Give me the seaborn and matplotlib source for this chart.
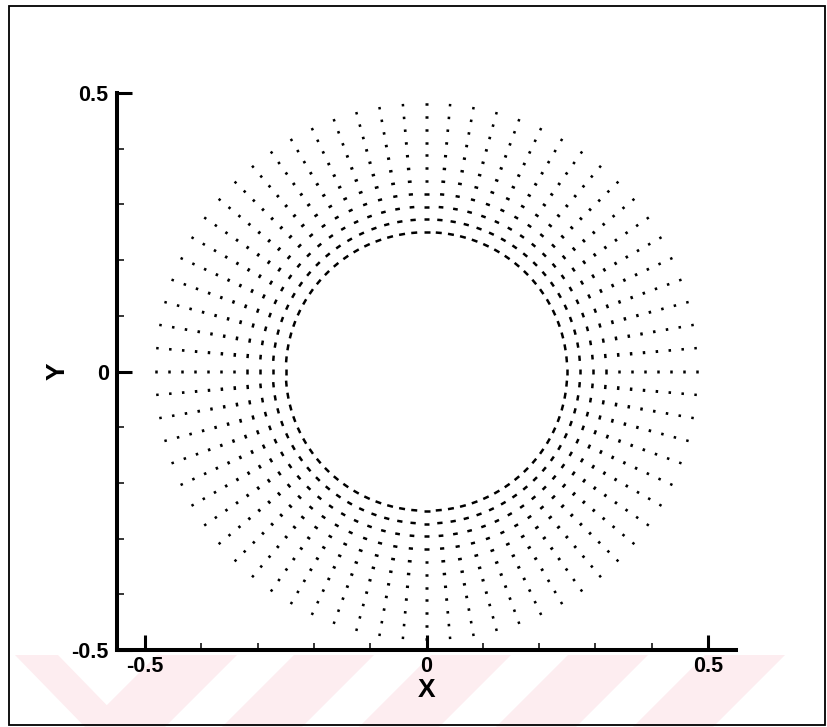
import numpy as np
import pandas as pd
import matplotlib
matplotlib.use("Agg")
import matplotlib.pyplot as plt
from matplotlib.markers import MarkerStyle
from matplotlib.transforms import Affine2D
from matplotlib.ticker import MultipleLocator, FixedLocator, FixedFormatter
from matplotlib.patches import Polygon, Rectangle
import seaborn as sns

# Radii of the rings of the annular point grid (inner boundary r = 0.25)
ring_radii = [0.250, 0.273, 0.296, 0.319, 0.342, 0.365,
              0.388, 0.411, 0.434, 0.457, 0.480]

# Angular positions of the grid spokes, degrees
spoke_angles = [0, 5, 10, 15, 20, 25, 30, 35, 40, 45, 50, 55,
                60, 65, 70, 75, 80, 85, 90, 95, 100, 105, 110, 115,
                120, 125, 130, 135, 140, 145, 150, 155, 160, 165, 170, 175,
                180, 185, 190, 195, 200, 205, 210, 215, 220, 225, 230, 235,
                240, 245, 250, 255, 260, 265, 270, 275, 280, 285, 290, 295,
                300, 305, 310, 315, 320, 325, 330, 335, 340, 345, 350, 355]

x_ticks = [-0.5, 0.0, 0.5]
x_tick_labels = ["-0.5", "0", "0.5"]
y_ticks = [-0.5, 0.0, 0.5]
y_tick_labels = ["-0.5", "0", "0.5"]

# Build the table of grid nodes
rows = []
for a in spoke_angles:
    t = np.deg2rad(a)
    for k, r in enumerate(ring_radii):
        rows.append({"angle": a, "ring": k, "x": r * np.cos(t), "y": r * np.sin(t)})
nodes = pd.DataFrame(rows)

# Tangential dash length of each node symbol (pixels), longer on the inner rings
dash_px = [6.0, 5.3, 4.7, 4.2, 3.8, 3.4, 3.1, 2.9, 2.7, 2.6, 2.5]
dash_sizes = {k: (0.72 * L) ** 2 for k, L in enumerate(dash_px)}

sns.set_style("white")
plt.rcParams["font.family"] = ["Liberation Sans", "DejaVu Sans"]
plt.rcParams["font.weight"] = "bold"
plt.rcParams["axes.unicode_minus"] = False
plt.rcParams["text.color"] = "black"
plt.rcParams["axes.labelcolor"] = "black"
plt.rcParams["xtick.color"] = "black"
plt.rcParams["ytick.color"] = "black"

W, H = 827, 727
fig = plt.figure(figsize=(W / 100, H / 100), dpi=100)
fig.patch.set_facecolor("white")

def fx(px):
    return px / W

def fy(py):
    return 1 - py / H

# Faint diagonal band pattern along the bottom edge of the page
band_col = "#fdedf0"
for x0 in [85, 222, 359, 496, 633]:
    pts = [(x0, 727), (x0 + 80, 727), (x0 + 152, 655), (x0 + 72, 655)]
    fig.add_artist(Polygon([(fx(a), fy(b)) for a, b in pts], closed=True,
                           transform=fig.transFigure, facecolor=band_col,
                           edgecolor="none", zorder=0))
pts = [(15, 655), (58, 655), (128, 727), (85, 727)]
fig.add_artist(Polygon([(fx(a), fy(b)) for a, b in pts], closed=True,
                       transform=fig.transFigure, facecolor=band_col,
                       edgecolor="none", zorder=0))

# Page frame
fig.add_artist(Rectangle((fx(9), fy(725)), fx(825) - fx(9), fy(6) - fy(725),
                         transform=fig.transFigure, fill=False,
                         edgecolor="black", linewidth=1.3, zorder=1))

ax = fig.add_axes([fx(117), fy(650), fx(736) - fx(117), fy(93) - fy(650)])
ax.set_facecolor("none")

for a, sub in nodes.groupby("angle"):
    mk = MarkerStyle("|", transform=Affine2D().rotate_deg(a))
    sns.scatterplot(data=sub, x="x", y="y", size="ring", sizes=dash_sizes,
                    marker=mk, color="black", linewidth=1.8, legend=False,
                    ax=ax, zorder=3)

ax.set_xlim(-0.55, 0.55)
ax.set_ylim(-0.5, 0.5)

for side in ["top", "right"]:
    ax.spines[side].set_visible(False)
for side in ["left", "bottom"]:
    ax.spines[side].set_linewidth(2.9)
    ax.spines[side].set_color("black")

ax.xaxis.set_major_locator(FixedLocator(x_ticks))
ax.xaxis.set_major_formatter(FixedFormatter(x_tick_labels))
ax.yaxis.set_major_locator(FixedLocator(y_ticks))
ax.yaxis.set_major_formatter(FixedFormatter(y_tick_labels))
ax.xaxis.set_minor_locator(MultipleLocator(0.1))
ax.yaxis.set_minor_locator(MultipleLocator(0.1))

ax.tick_params(which="both", bottom=True, left=True, top=False, right=False)
ax.tick_params(which="major", direction="in", length=10.8, width=2.2,
               color="black", labelcolor="black", labelsize=15.5, pad=4)
ax.tick_params(which="minor", direction="in", length=5.0, width=1.1,
               color="black")
ax.tick_params(axis="y", which="major", pad=6)
for lab in ax.get_xticklabels() + ax.get_yticklabels():
    lab.set_fontweight("bold")

ax.set_xlabel("X", fontsize=19, fontweight="bold", color="black")
ax.set_ylabel("Y", fontsize=19, fontweight="bold", color="black")
ax.xaxis.set_label_coords(0.5, -0.05)
ax.yaxis.set_label_coords(-0.077, 0.5)

fig.savefig("out.png", dpi=100)
